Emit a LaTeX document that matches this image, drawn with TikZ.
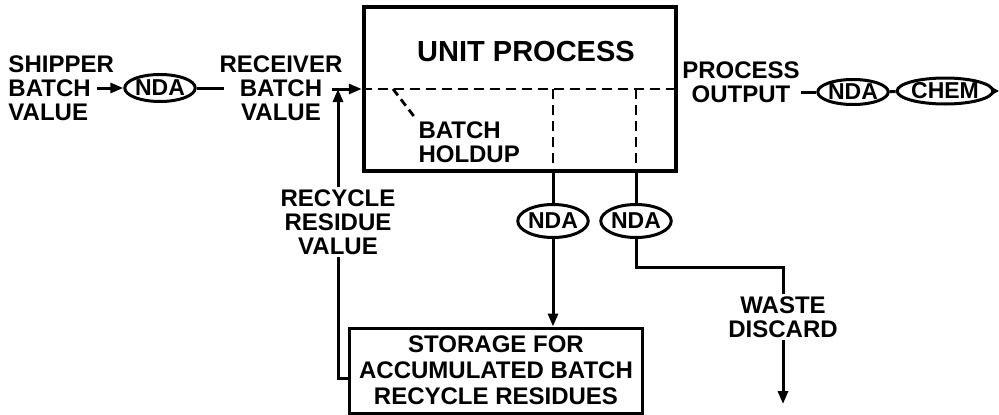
\documentclass[tikz,border=0pt]{standalone}
\usepackage{fontspec}
\setmainfont{Liberation Sans}
\usetikzlibrary{arrows.meta,positioning,calc,shapes.geometric}

\begin{document}
\begin{tikzpicture}[
  x=1pt,y=-1pt,line width=3pt,>={Triangle[length=13pt,width=10pt]},
  lbl/.style={font=\fontsize{24}{24}\selectfont\bfseries,align=center,inner sep=1pt},
  tag/.style={ellipse,draw,line width=3pt,inner sep=0pt,minimum width=66pt,minimum height=27pt,font=\fontsize{23}{23}\selectfont\bfseries},
  unitbox/.style={rectangle,draw,line width=4.5pt,minimum width=312pt,minimum height=164pt},
  storebox/.style={rectangle,draw,line width=3pt,minimum width=293pt,minimum height=85pt,align=center,font=\fontsize{24}{26}\selectfont\bfseries},
  hold/.style={line width=2.8pt,dash pattern=on 10pt off 6pt}
]
  \useasboundingbox (0,0) rectangle (999,415);

  % Main unit and storage
  \node[unitbox] (unit) at (520,89) {};
  \node[font=\fontsize{29}{30}\selectfont\bfseries] (title) at (526,52) {UNIT PROCESS};
  \node[lbl,align=left,anchor=west] (holdup) at (416,142) {BATCH\\HOLDUP};
  \node[storebox] (store) at (496,370.5) {STORAGE FOR\\ACCUMULATED BATCH\\RECYCLE RESIDUES};

  % Input side
  \node[lbl,align=left,anchor=west] (ship) at (6,88) {SHIPPER\\BATCH\\VALUE};
  \node[tag,minimum width=65pt] (nda0) at (160,88) {NDA};
  \node[lbl] (recv) at (281,88) {RECEIVER\\BATCH\\VALUE};
  \node[lbl] (recy) at (338,222) {RECYCLE\\RESIDUE\\VALUE};
  \coordinate (shipout) at (97,88);
  \coordinate (recin)   at (224,88);
  \coordinate (recout)  at (332,89);
  \coordinate (join)    at (338,89);

  % Output side
  \node[lbl] (out) at (741,82) {PROCESS\\OUTPUT};
  \node[tag,minimum width=67pt,minimum height=25pt] (nda3) at (853,92) {NDA};
  \node[tag,minimum width=84pt,minimum height=26pt] (chem) at (945,91) {CHEM};
  \coordinate (outend) at (801,92);
  \coordinate (tail)   at (999,91);

  % Side streams
  \node[tag,minimum width=70pt,minimum height=33pt] (nda1) at (553,221) {NDA};
  \node[tag,minimum width=68pt,minimum height=33pt] (nda2) at (636,221) {NDA};
  \node[lbl] (waste) at (783,317) {WASTE\\DISCARD};
  \coordinate (bend) at (783,267);
  \coordinate (drop) at (783,404);

  % Input arrows
  \draw[->] (shipout) -- (nda0);
  \draw (nda0) -- (recin);
  \draw[->] (recout) -- (unit.west |- recout);
  \draw ([yshift=-8pt]store.west) -| (recy.south);
  \draw[->] (recy.north) -- (join);

  % Dashed holdup lines
  \draw[hold] (unit.west |- join) -- (out.west |- join);
  \draw[hold,dash pattern=on 8pt off 5pt] (393,89) -- (holdup.north west);
  \draw[hold] (nda1 |- join) -- (nda1 |- unit.south);
  \draw[hold] (nda2 |- join) -- (nda2 |- unit.south);

  % Output arrows
  \draw (outend) -- (nda3);
  \draw (nda3) -- (chem);
  \draw[-{Triangle[length=6pt,width=6pt]}] (chem.east) -- (tail);

  % Side stream arrows
  \draw (nda1 |- unit.south) -- (nda1.north);
  \draw (nda2 |- unit.south) -- (nda2.north);
  \draw[->] (nda1.south) -- (nda1.south |- store.north);
  \draw (nda2.south) |- (bend) -- (waste.north);
  \draw[->] (waste.south) -- (drop);
\end{tikzpicture}
\end{document}
